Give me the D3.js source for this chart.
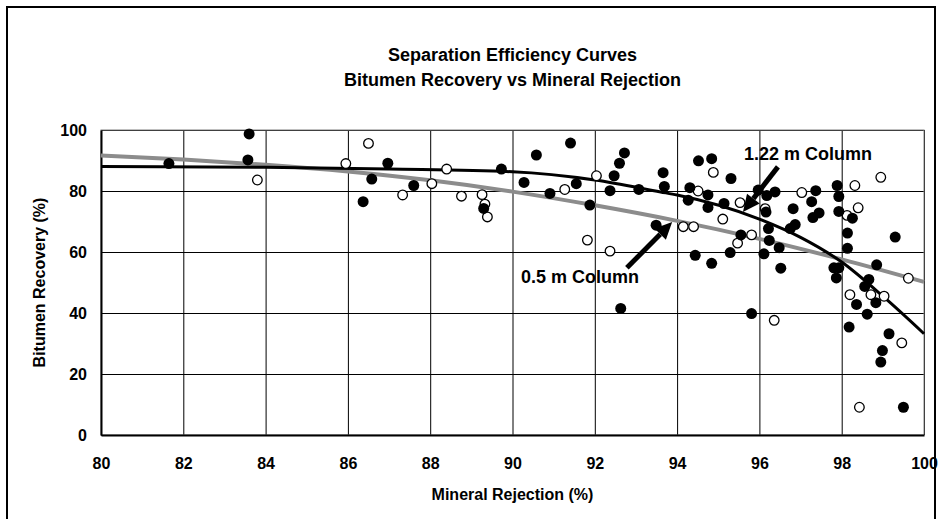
<!DOCTYPE html>
<meta charset="utf-8">
<script src="https://d3js.org/d3.v7.min.js"></script>
<style>
  body { margin: 0; background: #fff; }
  text { font-family: "Liberation Sans", Arial, sans-serif; font-weight: bold; fill: #000; }
  .title { font-size: 18px; }
  .tick text { font-size: 16px; }
  .axis-title { font-size: 16px; }
  .note { font-size: 18px; }
</style>
<div id="chart"></div>
<script>
// 1.22 m column (filled markers)
var colA_x = [81.65, 83.6, 83.57, 86.58, 86.37, 86.97, 87.6, 89.3, 89.73, 90.28, 90.58, 90.91, 91.41, 91.55, 91.88,
  92.37, 92.47, 92.6, 92.72, 92.63, 93.07, 93.49, 93.66, 93.69, 94.27, 94.31, 94.44, 94.52, 94.75, 94.75,
  94.84, 94.84, 95.14, 95.29, 95.31, 95.55, 95.81, 95.97, 96.11, 96.16, 96.18, 96.22, 96.24, 96.38, 96.48,
  96.52, 96.75, 96.82, 96.87, 97.27, 97.3, 97.37, 97.45, 97.81, 97.87, 97.89, 97.93, 97.93, 97.93, 98.14,
  98.14, 98.18, 98.26, 98.36, 98.56, 98.62, 98.66, 98.83, 98.85, 98.95, 98.99, 99.15, 99.3, 99.5];
var colA_y = [89.0, 98.7, 90.2, 83.9, 76.5, 89.1, 81.8, 74.3, 87.2, 82.8, 91.8, 79.2, 95.7, 82.4, 75.4,
  80.1, 85.0, 89.1, 92.5, 41.5, 80.5, 68.8, 86.0, 81.5, 77.0, 81.1, 58.9, 89.9, 78.7, 74.6,
  90.6, 56.3, 75.9, 59.8, 84.1, 65.6, 39.8, 80.3, 59.4, 73.1, 78.5, 67.7, 63.8, 79.7, 61.4,
  54.7, 67.7, 74.2, 69.0, 76.5, 71.3, 80.1, 72.8, 54.8, 51.5, 81.8, 78.2, 73.3, 54.8, 66.2,
  61.2, 35.4, 71.1, 42.8, 48.7, 39.6, 51.0, 43.4, 55.8, 23.9, 27.7, 33.2, 64.9, 9.1];

// 0.5 m column (open markers)
var colB_x = [83.8, 85.95, 86.5, 87.33, 88.04, 88.4, 88.76, 89.26, 89.33, 89.39, 91.27, 91.82, 92.04, 92.37,
  94.15, 94.4, 94.51, 94.88, 95.11, 95.47, 95.53, 95.81, 96.14, 96.36, 97.03, 98.13, 98.2, 98.32, 98.4,
  98.43, 98.71, 98.95, 99.03, 99.46, 99.62];
var colB_y = [83.6, 89.0, 95.6, 78.7, 82.4, 87.2, 78.3, 78.8, 75.7, 71.5, 80.5, 63.9, 85.0, 60.3,
  68.3, 68.3, 80.0, 86.1, 70.8, 62.9, 76.2, 65.6, 74.2, 37.6, 79.5, 72.0, 46.0, 81.8, 74.5,
  9.1, 46.0, 84.5, 45.5, 30.2, 51.4];

// fitted curves
var fitA_x = [80, 84, 87, 90, 92, 93.6, 94, 96, 97, 98, 99, 100];
var fitA_y = [88.0, 87.8, 87.2, 86.3, 83.6, 79.7, 78.7, 70.8, 64.8, 56.7, 45.5, 33.2];
var fitB_x = [80, 82, 84, 86, 88, 90, 92, 94, 96, 98, 100];
var fitB_y = [91.6, 90.3, 88.6, 86.4, 83.5, 79.8, 75.3, 70.2, 64.3, 57.6, 50.2];

var xTicks = [80, 82, 84, 86, 88, 90, 92, 94, 96, 98, 100];
var yTicks = [0, 20, 40, 60, 80, 100];

var width = 941, height = 519;
var plot = {left: 101, right: 924, top: 130, bottom: 435};

var svg = d3.select("#chart").append("svg")
  .attr("width", width)
  .attr("height", height);

// chart frame (bottom edge falls outside the picture)
svg.append("path")
  .attr("d", "M7,530 V7 H935 V530")
  .attr("fill", "none")
  .attr("stroke", "#000")
  .attr("stroke-width", 2);

svg.append("text").attr("class", "title")
  .attr("x", (plot.left + plot.right) / 2).attr("y", 61)
  .attr("text-anchor", "middle")
  .text("Separation Efficiency Curves");
svg.append("text").attr("class", "title")
  .attr("x", (plot.left + plot.right) / 2).attr("y", 86)
  .attr("text-anchor", "middle")
  .text("Bitumen Recovery vs Mineral Rejection");

var x = d3.scaleLinear().domain([80, 100]).range([plot.left, plot.right]);
var y = d3.scaleLinear().domain([0, 100]).range([plot.bottom, plot.top]);

// gridlines
svg.append("g")
  .attr("transform", "translate(0," + plot.bottom + ")")
  .call(d3.axisBottom(x).tickValues(xTicks).tickSize(-(plot.bottom - plot.top)).tickFormat(""))
  .call(function(g) { g.select(".domain").remove(); })
  .selectAll("line").attr("stroke", "#000").attr("stroke-width", 1);
svg.append("g")
  .attr("transform", "translate(" + plot.left + ",0)")
  .call(d3.axisLeft(y).tickValues(yTicks).tickSize(-(plot.right - plot.left)).tickFormat(""))
  .call(function(g) { g.select(".domain").remove(); })
  .selectAll("line").attr("stroke", "#000").attr("stroke-width", 1);

svg.append("rect")
  .attr("x", plot.left).attr("y", plot.top)
  .attr("width", plot.right - plot.left).attr("height", plot.bottom - plot.top)
  .attr("fill", "none").attr("stroke", "#808080");

// axes
var xAxis = svg.append("g")
  .attr("transform", "translate(0," + plot.bottom + ")")
  .call(d3.axisBottom(x).tickValues(xTicks).tickSize(0).tickPadding(23));
xAxis.select(".domain").attr("stroke", "#000").attr("stroke-width", 2);

var yAxis = svg.append("g")
  .attr("transform", "translate(" + plot.left + ",0)")
  .call(d3.axisLeft(y).tickValues(yTicks).tickSize(0).tickPadding(14));
yAxis.select(".domain").attr("stroke", "#000").attr("stroke-width", 2);
svg.selectAll(".tick text").attr("fill", "#000");

svg.append("text").attr("class", "axis-title")
  .attr("x", (plot.left + plot.right) / 2).attr("y", 500)
  .attr("text-anchor", "middle")
  .text("Mineral Rejection (%)");
svg.append("text").attr("class", "axis-title")
  .attr("transform", "translate(45," + (plot.top + plot.bottom) / 2 + ") rotate(-90)")
  .attr("text-anchor", "middle")
  .text("Bitumen Recovery (%)");

// fitted curves
var line = d3.line()
  .x(function(d) { return x(d[0]); })
  .y(function(d) { return y(d[1]); })
  .curve(d3.curveMonotoneX);

svg.append("path")
  .datum(d3.zip(fitB_x, fitB_y))
  .attr("d", line)
  .attr("fill", "none")
  .attr("stroke", "#8c8c8c")
  .attr("stroke-width", 4);

svg.append("path")
  .datum(d3.zip(fitA_x, fitA_y))
  .attr("d", line)
  .attr("fill", "none")
  .attr("stroke", "#000")
  .attr("stroke-width", 3);

// markers
svg.append("g")
  .selectAll("circle")
  .data(d3.zip(colB_x, colB_y))
  .enter()
  .append("circle")
  .attr("cx", function(d) { return x(d[0]); })
  .attr("cy", function(d) { return y(d[1]); })
  .attr("r", 4.8)
  .attr("fill", "#fff")
  .attr("stroke", "#000")
  .attr("stroke-width", 1.3);

svg.append("g")
  .selectAll("circle")
  .data(d3.zip(colA_x, colA_y))
  .enter()
  .append("circle")
  .attr("cx", function(d) { return x(d[0]); })
  .attr("cy", function(d) { return y(d[1]); })
  .attr("r", 5.5)
  .attr("fill", "#000");

// annotations: [label, textX, textY, tailX, tailY, tipX, tipY] in data units
var notes = [
  ["1.22 m Column", 97.18, 92.1, 96.45, 87.9, 95.6, 73.1],
  ["0.5 m Column", 91.64, 51.8, 92.78, 54.8, 93.88, 69.8]
];

notes.forEach(function(n) {
  var x0 = x(n[3]), y0 = y(n[4]), x1 = x(n[5]), y1 = y(n[6]);
  var ang = Math.atan2(y1 - y0, x1 - x0);
  var headLen = 17, headW = 8;
  var bx = x1 - headLen * Math.cos(ang), by = y1 - headLen * Math.sin(ang);
  svg.append("line")
    .attr("x1", x0).attr("y1", y0).attr("x2", bx).attr("y2", by)
    .attr("stroke", "#000").attr("stroke-width", 5);
  var px = -Math.sin(ang) * headW, py = Math.cos(ang) * headW;
  svg.append("path")
    .attr("d", "M" + x1 + "," + y1 + "L" + (bx + px) + "," + (by + py) + "L" + (bx - px) + "," + (by - py) + "Z")
    .attr("fill", "#000");
  svg.append("text").attr("class", "note")
    .attr("x", x(n[1])).attr("y", y(n[2]))
    .attr("dy", "0.35em")
    .attr("text-anchor", "middle")
    .text(n[0]);
});
</script>
